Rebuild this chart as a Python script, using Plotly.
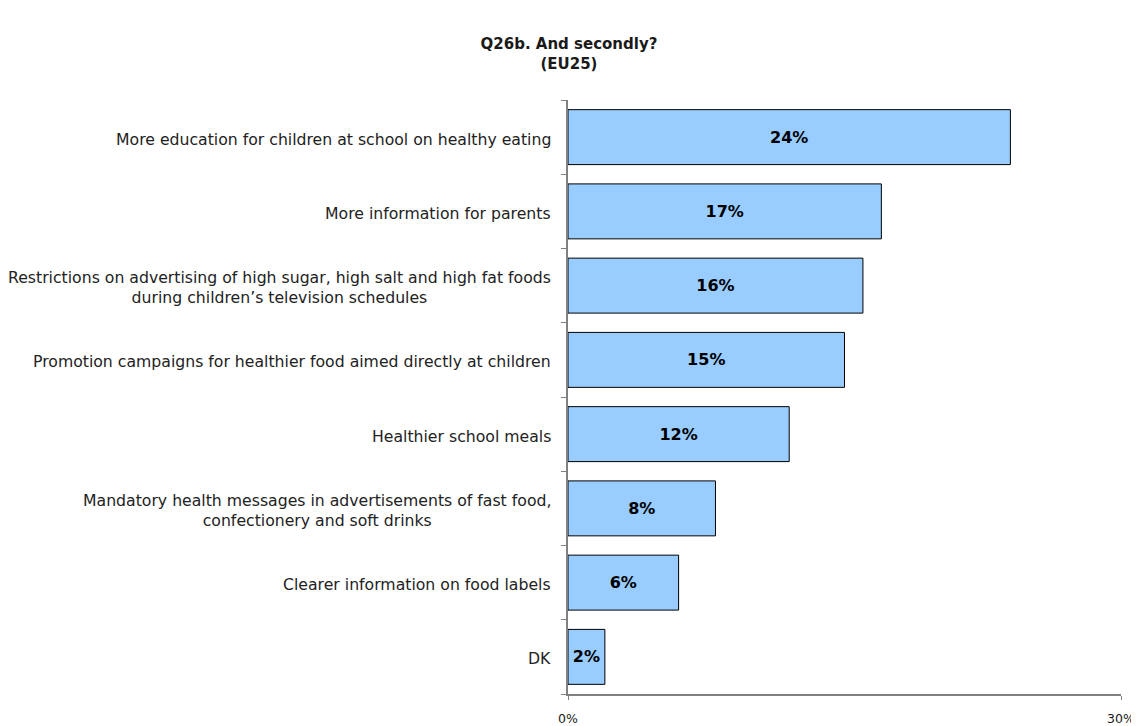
import plotly.graph_objects as go

categories = [
    "More education for children at school on healthy eating",
    "More information for parents",
    "Restrictions on advertising of high sugar, high salt and high fat foods<br>during children\u2019s television schedules",
    "Promotion campaigns for healthier food aimed directly at children",
    "Healthier school meals",
    "Mandatory health messages in advertisements of fast food,<br>confectionery and soft drinks",
    "Clearer information on food labels",
    "DK",
]
values = [24, 17, 16, 15, 12, 8, 6, 2]
x_ticks = [0, 30]
x_tick_labels = ["0%", "30%"]

font = "Verdana, DejaVu Sans, sans-serif"
n = len(categories)

fig = go.Figure()
fig.add_trace(go.Bar(
    y=list(range(n)),
    x=values,
    orientation="h",
    marker=dict(color="#99CCFF", line=dict(color="black", width=1)),
    text=[f"{v}%" for v in values],
    textposition="inside",
    insidetextanchor="middle",
    textangle=0,
    textfont=dict(family=font, size=16, color="black", weight="bold"),
    width=0.74,
    hoverinfo="skip",
))

# category labels, centred like the original
for i, c in enumerate(categories):
    fig.add_annotation(
        x=0, xref="paper", y=i, yref="y",
        text=c, showarrow=False, xanchor="right", xshift=-15, yshift=-2,
        align="center", font=dict(family=font, size=15.7, color="#222222"),
    )

fig.update_layout(
    title=dict(text="<b>Q26b. And secondly?<br>(EU25)</b>", x=0.4925, xanchor="center",
               y=0.943, yanchor="top", font=dict(family=font, size=15, color="#1a1a1a")),
    width=1139, height=726,
    margin=dict(l=560, r=26, t=92, b=40),
    plot_bgcolor="white", paper_bgcolor="white",
    showlegend=False,
    uniformtext=dict(minsize=16, mode="show"),
)
fig.update_xaxes(
    range=[0, 30], tickvals=x_ticks, ticktext=x_tick_labels, automargin=False,
    showgrid=False, zeroline=False, showline=True, linecolor="#808080", linewidth=1.5,
    ticks="outside", ticklen=4, tickcolor="#808080", ticklabelstandoff=8,
    ticklabeloverflow="allow",
    tickfont=dict(family=font, size=12.5, color="#1a1a1a"),
)
# ticks on the category boundaries
fig.update_yaxes(
    range=[n - 0.5, -0.5], automargin=False,
    tickvals=[i - 0.5 for i in range(n + 1)], ticktext=[""] * (n + 1),
    showgrid=False, zeroline=False, showline=True, linecolor="#808080", linewidth=1.5,
    ticks="outside", ticklen=5, tickcolor="#808080",
)

fig.write_html("out.html")
